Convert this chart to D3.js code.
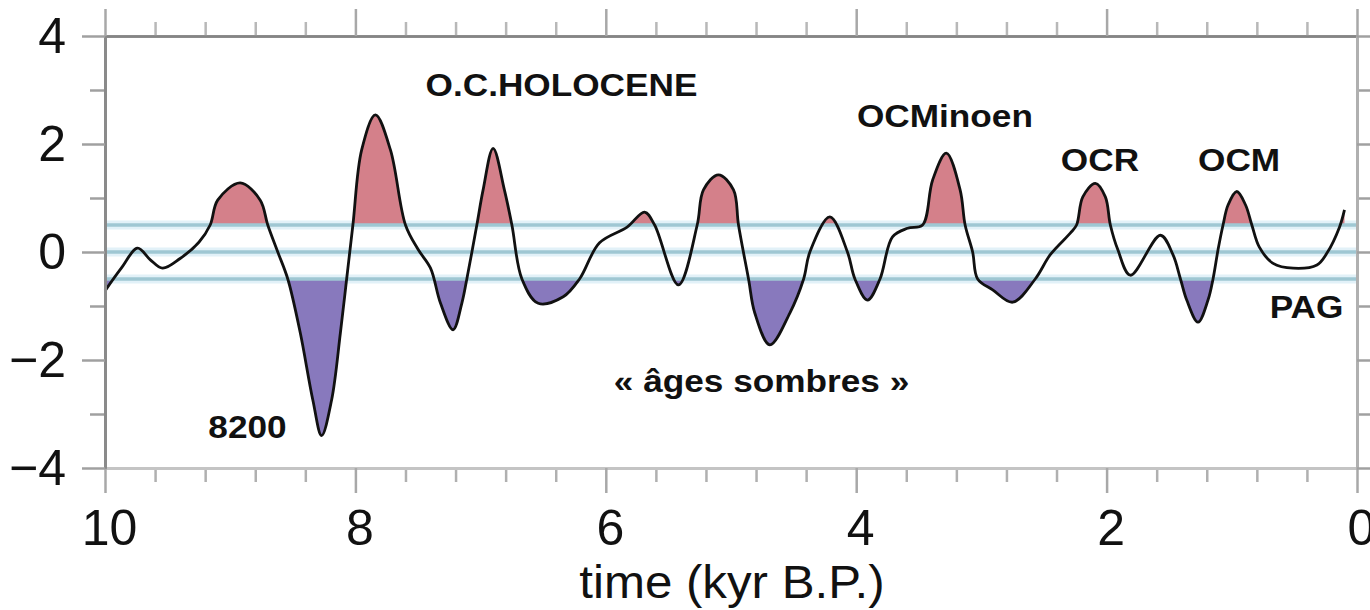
<!DOCTYPE html>
<html>
<head>
<meta charset="utf-8">
<script src="https://cdn.jsdelivr.net/npm/d3@7"></script>
<style>
  html, body { margin: 0; padding: 0; background: #fff; }
  svg { display: block; }
  text { font-family: "Liberation Sans", Arial, Helvetica, sans-serif; }
</style>
</head>
<body>
<svg id="chart" width="1370" height="610"></svg>
<script>
// ---------------- data ----------------
const times = [10.00, 9.87, 9.74, 9.64, 9.54, 9.40, 9.25, 9.16, 9.10, 8.92, 8.76, 8.70, 8.62, 8.54, 8.44, 8.34, 8.27, 8.19, 8.12, 8.07,
  8.02, 7.95, 7.84, 7.72, 7.60, 7.50, 7.40, 7.32, 7.22, 7.15, 7.11, 7.03, 6.98, 6.90, 6.81, 6.75, 6.67, 6.54, 6.34, 6.21,
  6.05, 5.83, 5.69, 5.61, 5.42, 5.27, 5.22, 5.10, 4.98, 4.94, 4.86, 4.81, 4.69, 4.53, 4.42, 4.37, 4.21, 4.07, 4.01, 3.91,
  3.81, 3.71, 3.59, 3.47, 3.39, 3.28, 3.17, 3.13, 3.07, 3.03, 2.91, 2.75, 2.57, 2.45, 2.29, 2.24, 2.19, 2.09, 2.01, 1.97,
  1.91, 1.81, 1.57, 1.47, 1.41, 1.36, 1.27, 1.19, 1.15, 1.11, 1.07, 1.03, 0.96, 0.89, 0.84, 0.78, 0.67, 0.51, 0.32, 0.24,
  0.14, 0.10];
const values = [-0.72, -0.30, 0.07, -0.14, -0.30, -0.12, 0.18, 0.50, 0.96, 1.28, 0.96, 0.50, 0.00, -0.50, -1.50, -2.74, -3.40, -2.74, -1.50, -0.50,
  0.50, 1.89, 2.54, 1.89, 0.50, 0.05, -0.30, -0.95, -1.44, -0.95, -0.50, 0.50, 1.15, 1.92, 1.15, 0.50, -0.50, -0.95, -0.83, -0.50,
  0.17, 0.46, 0.74, 0.50, -0.61, 0.50, 1.15, 1.43, 1.15, 0.50, -0.50, -1.13, -1.72, -1.13, -0.50, 0.00, 0.65, 0.00, -0.50, -0.89,
  -0.50, 0.28, 0.44, 0.50, 1.33, 1.83, 1.15, 0.50, 0.00, -0.50, -0.70, -0.93, -0.50, -0.05, 0.35, 0.50, 1.02, 1.27, 1.02, 0.50,
  0.04, -0.43, 0.31, -0.05, -0.50, -0.89, -1.30, -0.89, -0.50, 0.04, 0.50, 0.87, 1.12, 0.87, 0.50, 0.09, -0.21, -0.30, -0.24, -0.02,
  0.46, 0.78];

const xMajorTicks = [10, 8, 6, 4, 2, 0];
const xMinorTicks = [9.6, 9.2, 8.8, 8.4, 7.6, 7.2, 6.8, 6.4, 5.6, 5.2, 4.8, 4.4, 3.6, 3.2, 2.8, 2.4, 1.6, 1.2, 0.8, 0.4];
const yMajorTicks = [-4, -2, 0, 2, 4];
const yMinorTicks = [-3, -1, 1, 3];
const thresholds = [0.5, 0, -0.5];
const warmThreshold = 0.5;
const coldThreshold = -0.5;

const labelTexts  = ["O.C.HOLOCENE", "OCMinoen", "OCR", "OCM", "PAG", "8200", "\u00AB \u00E2ges sombres \u00BB"];
const labelTimes  = [6.354, 3.291, 2.053, 0.942, 0.403, 8.862, 4.756];
const labelValues = [2.889, 2.315, 1.50, 1.50, -1.222, -3.444, -2.593];

const xTitle = "time (kyr B.P.)";

// ---------------- layout ----------------
const svg = d3.select("#chart");
const L = 105, R = 1357, T = 36, B = 468;

const x = d3.scaleLinear().domain([10, 0]).range([L, R]);
const y = d3.scaleLinear().domain([-4, 4]).range([B, T]);

const series = times.map((t, i) => ({ t: t, v: values[i] }));

const defs = svg.append("defs");
defs.append("clipPath").attr("id", "clipWarm")
  .append("rect").attr("x", L).attr("y", 0).attr("width", R - L).attr("height", y(warmThreshold));
defs.append("clipPath").attr("id", "clipCold")
  .append("rect").attr("x", L).attr("y", y(coldThreshold)).attr("width", R - L).attr("height", 610 - y(coldThreshold));

// threshold line halos
svg.append("g").selectAll("line").data(thresholds).join("line")
  .attr("x1", L).attr("x2", R)
  .attr("y1", d => y(d)).attr("y2", d => y(d))
  .attr("stroke", "#e2f1f8").attr("stroke-width", 9);

// fills
const curve = d3.curveCatmullRom.alpha(0.5);
svg.append("path").datum(series)
  .attr("clip-path", "url(#clipWarm)")
  .attr("fill", "#d4808a")
  .attr("d", d3.area().curve(curve).x(d => x(d.t)).y0(y(warmThreshold)).y1(d => y(d.v)));
svg.append("path").datum(series)
  .attr("clip-path", "url(#clipCold)")
  .attr("fill", "#8879bd")
  .attr("d", d3.area().curve(curve).x(d => x(d.t)).y0(y(coldThreshold)).y1(d => y(d.v)));

// threshold line cores
svg.append("g").selectAll("line").data(thresholds).join("line")
  .attr("x1", L).attr("x2", R)
  .attr("y1", d => y(d)).attr("y2", d => y(d))
  .attr("stroke", "#9fc7d3").attr("stroke-width", 3.5);

// curve
svg.append("path").datum(series)
  .attr("fill", "none")
  .attr("stroke", "#111")
  .attr("stroke-width", 2.8)
  .attr("stroke-linejoin", "round")
  .attr("d", d3.line().curve(curve).x(d => x(d.t)).y(d => y(d.v)));

// ---------------- axes ----------------
function styleAxis(g, lineColor, lineWidth, tickColor) {
  g.select(".domain").attr("stroke", lineColor).attr("stroke-width", lineWidth);
  g.selectAll(".tick line").attr("stroke", tickColor).attr("stroke-width", 2.5);
  g.selectAll(".tick text").attr("fill", "#111").attr("font-size", 50);
}

// bottom
const gBMinor = svg.append("g").attr("transform", `translate(0,${B})`)
  .call(d3.axisBottom(x).tickValues(xMinorTicks).tickSize(14).tickSizeOuter(0).tickFormat(""));
styleAxis(gBMinor, "#c4c4c4", 3, "#b0b0b0");
const gBMajor = svg.append("g").attr("transform", `translate(0,${B})`)
  .call(d3.axisBottom(x).tickValues(xMajorTicks).tickSize(25).tickSizeOuter(0).tickPadding(16).tickFormat(d3.format("d")));
styleAxis(gBMajor, "#c4c4c4", 3, "#a8a8a8");
gBMajor.selectAll(".tick text").attr("dx", 4);

// top
const gTMinor = svg.append("g").attr("transform", `translate(0,${T})`)
  .call(d3.axisTop(x).tickValues(xMinorTicks).tickSize(14).tickSizeOuter(0).tickFormat(""));
styleAxis(gTMinor, "#858585", 2.5, "#b8b8b8");
const gTMajor = svg.append("g").attr("transform", `translate(0,${T})`)
  .call(d3.axisTop(x).tickValues(xMajorTicks).tickSize(27).tickSizeOuter(0).tickFormat(""));
styleAxis(gTMajor, "#858585", 2.5, "#a8a8a8");

// left
const gLMinor = svg.append("g").attr("transform", `translate(${L},0)`)
  .call(d3.axisLeft(y).tickValues(yMinorTicks).tickSize(15).tickSizeOuter(0).tickFormat(""));
styleAxis(gLMinor, "#8a8a8a", 3, "#a0a0a0");
const gLMajor = svg.append("g").attr("transform", `translate(${L},0)`)
  .call(d3.axisLeft(y).tickValues(yMajorTicks).tickSize(23).tickSizeOuter(0).tickPadding(16).tickFormat(d3.format("d")));
styleAxis(gLMajor, "#8a8a8a", 3, "#a0a0a0");

// right
const gRMinor = svg.append("g").attr("transform", `translate(${R},0)`)
  .call(d3.axisRight(y).tickValues(yMinorTicks).tickSize(15).tickSizeOuter(0).tickFormat(""));
styleAxis(gRMinor, "#b0b0b0", 3, "#a0a0a0");
const gRMajor = svg.append("g").attr("transform", `translate(${R},0)`)
  .call(d3.axisRight(y).tickValues(yMajorTicks).tickSize(23).tickSizeOuter(0).tickFormat(""));
styleAxis(gRMajor, "#b0b0b0", 3, "#a0a0a0");

svg.selectAll(".domain").attr("fill", "none");

// ---------------- text ----------------
function stretch(sel, k) {
  sel.each(function () {
    const w = this.getComputedTextLength();
    d3.select(this).attr("textLength", w * k).attr("lengthAdjust", "spacingAndGlyphs");
  });
}

const labels = svg.append("g").selectAll("text").data(labelTexts).join("text")
  .attr("x", (d, i) => x(labelTimes[i]))
  .attr("y", (d, i) => y(labelValues[i]))
  .attr("text-anchor", "middle")
  .attr("font-size", 32)
  .attr("font-weight", "bold")
  .attr("fill", "#111")
  .text(d => d);
stretch(labels, 1.1);

const title = svg.append("text")
  .attr("x", (L + R) / 2 + 1)
  .attr("y", 598)
  .attr("text-anchor", "middle")
  .attr("font-size", 46)
  .attr("fill", "#111")
  .text(xTitle);
stretch(title, 1.07);
</script>
</body>
</html>
